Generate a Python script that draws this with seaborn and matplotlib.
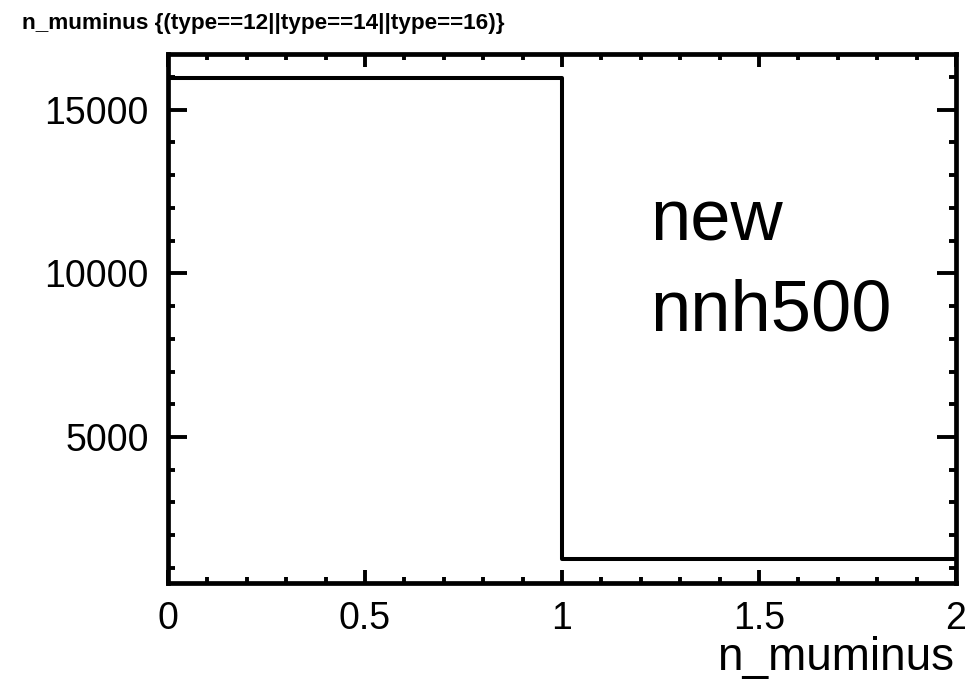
"""
Step histogram of n_muminus for neutrino events, ROOT-like styling.
"""

import numpy as np
import matplotlib

matplotlib.use("Agg")
import matplotlib.pyplot as plt
from matplotlib.ticker import MultipleLocator
import seaborn as sns

# Data
bin_edges = [0, 1, 2]
bin_centers = [0.5, 1.5]
bin_counts = [15970, 1275]

x_ticks = [0, 0.5, 1, 1.5, 2]
x_ticklabels = ["0", "0.5", "1", "1.5", "2"]
y_ticks = [5000, 10000, 15000]
y_ticklabels = ["5000", "10000", "15000"]

TITLE = "n_muminus {(type==12||type==14||type==16)}"
XLABEL = "n_muminus"
LABEL_LINES = ["new", "nnh500"]

# Figure settings
sns.set_style("ticks")
plt.rcParams["font.family"] = ["Liberation Sans", "DejaVu Sans"]
plt.rcParams["text.color"] = "black"
plt.rcParams["xtick.color"] = "black"
plt.rcParams["ytick.color"] = "black"
LINE_W = 2.9
FRAME_W = 3.4


def main():
    fig = plt.figure(figsize=(9.73, 6.82), dpi=100)
    ax = fig.add_axes([0.1727, 0.1452, 0.9825 - 0.1727, 0.9208 - 0.1452])

    sns.histplot(
        x=bin_centers,
        weights=bin_counts,
        bins=bin_edges,
        element="step",
        fill=False,
        color="black",
        linewidth=LINE_W,
        ax=ax,
    )

    ax.set_xlim(0, 2)
    ax.set_ylim(540, 16700)

    ax.set_xticks(x_ticks)
    ax.set_xticklabels(x_ticklabels)
    ax.set_yticks(y_ticks)
    ax.set_yticklabels(y_ticklabels)
    ax.xaxis.set_minor_locator(MultipleLocator(0.1))
    ax.yaxis.set_minor_locator(MultipleLocator(1000))

    ax.tick_params(axis="both", which="both", direction="in",
                   top=True, right=True, width=2.8, colors="black")
    ax.tick_params(axis="x", which="major", length=9.5, labelsize=27, pad=13)
    ax.tick_params(axis="x", which="minor", length=4.5)
    ax.tick_params(axis="y", which="major", length=13.5, labelsize=27, pad=14)
    ax.tick_params(axis="y", which="minor", length=5)

    for spine in ax.spines.values():
        spine.set_visible(True)
        spine.set_linewidth(FRAME_W)
        spine.set_color("black")

    ax.set_xlabel("")
    ax.set_ylabel("")
    fig.text(0.98, 1 - 670 / 682, XLABEL, ha="right", va="baseline",
             fontsize=33, color="black")

    # Title at the top left, bold
    fig.text(0.023, 0.958, TITLE, ha="left", va="baseline",
             fontsize=16.2, fontweight="bold", color="black")

    # Big label text inside the plot
    ax.text(1.225, 11000, LABEL_LINES[0], ha="left", va="baseline",
            fontsize=52, color="black")
    ax.text(1.225, 8240, LABEL_LINES[1], ha="left", va="baseline",
            fontsize=52, color="black")

    fig.savefig("out.png", dpi=100)
    plt.close(fig)


if __name__ == "__main__":
    main()
